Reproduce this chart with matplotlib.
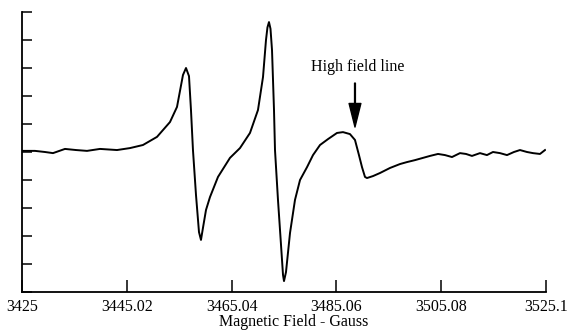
"""
esr spectrum - high field line
"""
import matplotlib
matplotlib.use("Agg")
import matplotlib.pyplot as plt

# magnetic field (Gauss) and signal (arb. units)
field = [3425.0, 3427.48, 3429.39, 3430.92, 3433.21, 3435.32, 3437.42, 3439.90,
         3443.15, 3445.63, 3448.11, 3450.79, 3453.27, 3454.61, 3455.75,
         3456.33, 3456.90, 3457.28, 3457.66, 3458.24, 3458.81, 3459.19, 3459.57,
         3460.15, 3460.91, 3462.44, 3464.73, 3466.64, 3468.55, 3470.08, 3471.04,
         3471.61, 3471.89, 3472.18, 3472.47, 3472.76, 3473.14, 3473.33, 3473.90, 3474.48,
         3474.86, 3475.05, 3475.43, 3476.20, 3477.15, 3478.11, 3479.45, 3480.59,
         3481.93, 3483.45, 3485.17, 3486.32, 3487.65, 3488.61, 3489.37, 3489.95,
         3490.52, 3490.90, 3492.05, 3493.39, 3495.30, 3497.21, 3498.54, 3500.07,
         3501.60, 3502.94, 3504.47, 3505.80, 3507.14, 3508.67, 3509.82, 3510.96,
         3512.49, 3513.82, 3514.97, 3516.31, 3517.65, 3518.98, 3520.13, 3521.47,
         3522.61, 3523.95, 3524.91]
signal = [5.04, 5.04, 5.00, 4.96, 5.11, 5.07, 5.04, 5.11,
          5.07, 5.14, 5.25, 5.54, 6.07, 6.61, 7.75,
          8.00, 7.71, 6.50, 5.07, 3.46, 2.14, 1.86, 2.29,
          2.93, 3.39, 4.11, 4.79, 5.14, 5.68, 6.50, 7.68,
          9.00, 9.45, 9.64, 9.40, 8.64, 6.50, 5.07, 3.29, 1.68,
          0.61, 0.39, 0.71, 2.11, 3.29, 4.00, 4.46, 4.89,
          5.25, 5.46, 5.68, 5.71, 5.64, 5.43, 4.89, 4.46,
          4.11, 4.07, 4.14, 4.25, 4.43, 4.57, 4.64, 4.71,
          4.79, 4.86, 4.93, 4.89, 4.82, 4.96, 4.93, 4.86,
          4.96, 4.89, 5.00, 4.96, 4.89, 5.00, 5.07, 5.00,
          4.96, 4.93, 5.07]

xticks = [3425, 3445.02, 3465.04, 3485.06, 3505.08, 3525.1]
xtick_labels = ["3425", "3445.02", "3465.04", "3485.06", "3505.08", "3525.1"]
yticks = list(range(0, 11))

arrow_tip = (3488.61, 5.89)
arrow_tail = (3488.61, 7.46)
label_pos = (3489.2, 8.04)

plt.rcParams['font.family'] = ['Liberation Serif', 'DejaVu Serif']

fig = plt.figure(figsize=(5.7, 3.31), dpi=100)
ax = fig.add_axes([22 / 570, 39 / 331, 524 / 570, 280 / 331])

ax.plot(field, signal, color='black', linewidth=1.4)

ax.set_xlim(3425, 3525.1)
ax.set_ylim(0, 10)
ax.set_xticks(xticks)
ax.set_xticklabels(xtick_labels, fontsize=11.5)
ax.set_yticks(yticks)
ax.set_yticklabels([])
ax.tick_params(axis='x', direction='in', length=8.5, width=1.1, pad=5)
ax.tick_params(axis='y', direction='in', length=7, width=1.1)

for side in ['top', 'right']:
    ax.spines[side].set_visible(False)
for side in ['left', 'bottom']:
    ax.spines[side].set_linewidth(1.3)

ax.set_xlabel("Magnetic Field - Gauss", fontsize=11.5)
ax.xaxis.set_label_coords(0.519, -0.08)

# arrow pointing at the high field line
ax.annotate("", xy=arrow_tip, xytext=arrow_tail,
            arrowprops=dict(width=0.6, headwidth=8.5, headlength=17,
                            color='black', shrink=0))
ax.text(label_pos[0], label_pos[1], "High field line", fontsize=11.5,
        ha='center', va='center')

fig.savefig('out.png', dpi=100)
